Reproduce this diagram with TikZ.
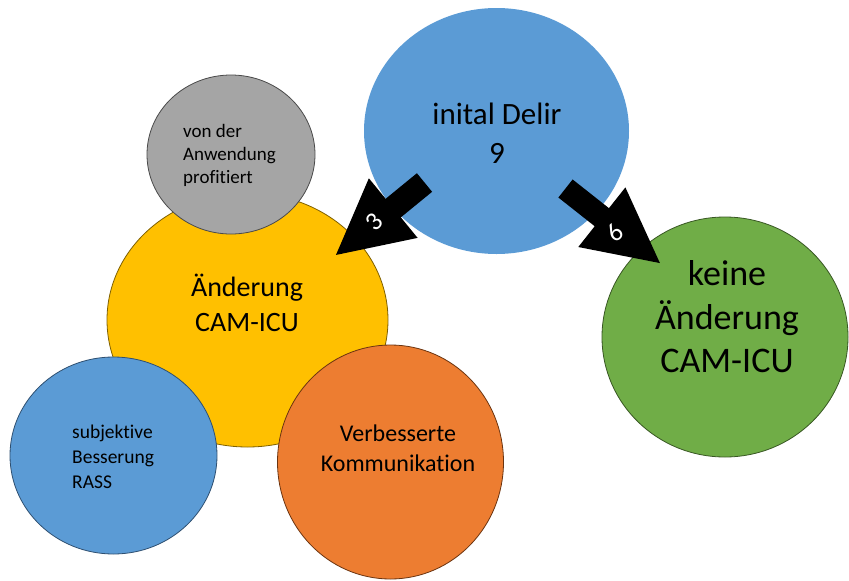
\documentclass[tikz,border=0pt]{standalone}
\usepackage{fontspec}
\setmainfont{Carlito}[Ligatures=CommonOff]
\usetikzlibrary{shapes.geometric}
\definecolor{cblue}{HTML}{5B9BD5}
\definecolor{cblueline}{HTML}{2E4F70}
\definecolor{cyellow}{HTML}{FFC000}
\definecolor{cyellowline}{HTML}{7F6000}
\definecolor{cgray}{HTML}{A5A5A5}
\definecolor{cgrayline}{HTML}{4A4A4A}
\definecolor{cgreen}{HTML}{70AD47}
\definecolor{cgreenline}{HTML}{385723}
\definecolor{corange}{HTML}{ED7D31}
\definecolor{corangeline}{HTML}{6B3410}
\tikzset{
  blob/.style={ellipse, inner sep=0pt, line width=0.8pt},
  txt/.style={inner sep=0pt, align=center, text=black},
  numlabel/.style={inner sep=0pt, text=white, font=\fontsize{26}{28}\selectfont},
  blockarrow/.style={fill=black}
}
\begin{document}
\begin{tikzpicture}[x=1pt,y=-1pt]
\useasboundingbox (0,0) rectangle (849,581);
% circles
\node[blob, fill=cyellow, draw=cyellowline, minimum width=281pt, minimum height=254pt] (yel) at (247.5,320) {};
\node[blob, fill=cgray, draw=cgrayline, minimum width=168pt, minimum height=159pt] (gry) at (231,154.5) {};
\node[blob, fill=cblue, draw=cblueline, minimum width=207pt, minimum height=197pt] (sbl) at (113.5,455.5) {};
\node[blob, fill=corange, draw=corangeline, minimum width=226pt, minimum height=234pt] (org) at (390.5,462) {};
\node[blob, fill=cblue, minimum width=265pt, minimum height=246pt] (tbl) at (496.5,131) {};
\node[blob, fill=cgreen, draw=cgreenline, minimum width=246pt, minimum height=240pt] (grn) at (725,337) {};
% texts
\node[txt, font=\fontsize{31}{39}\selectfont] (ttbl) at (497,133) {inital Delir\\9};
\node[txt, font=\fontsize{28}{35}\selectfont] (tyel) at (247,303) {Änderung\\CAM-ICU};
\node[txt, font=\fontsize{36}{43.5}\selectfont] (tgrn) at (727,317) {keine\\Änderung\\CAM-ICU};
\node[txt, align=left, anchor=west, font=\fontsize{19}{23}\selectfont] (tgry) at (183,155) {von der\\Anwendung\\profitiert};
\node[txt, align=left, anchor=west, font=\fontsize{19.5}{25}\selectfont] (tsbl) at (72,457) {subjektive\\Besserung\\RASS};
\node[txt, font=\fontsize{24}{30}\selectfont] (torg) at (398,448) {Verbesserte\\Kommunikation};
% block arrows
\coordinate (a1tail) at (424.5,182.5);
\coordinate (a2tail) at (565.5,188.5);
\begin{scope}[shift={(a1tail)}, rotate=219.3]
  \fill[blockarrow] (0,-12) -- (40.4,-12) -- (40.4,-38.5) -- (114.4,0) -- (40.4,38.5) -- (40.4,12) -- (0,12) -- cycle;
\end{scope}
\begin{scope}[shift={(a2tail)}, rotate=-38.3]
  \fill[blockarrow] (0,-11.5) -- (46.3,-11.5) -- (46.3,-38) -- (120.3,0) -- (46.3,38) -- (46.3,11.5) -- (0,11.5) -- cycle;
\end{scope}
\node[numlabel, rotate=45] (n3) at (374,222) {3};
\node[numlabel, rotate=40] (n6) at (615,233) {6};
\end{tikzpicture}
\end{document}
